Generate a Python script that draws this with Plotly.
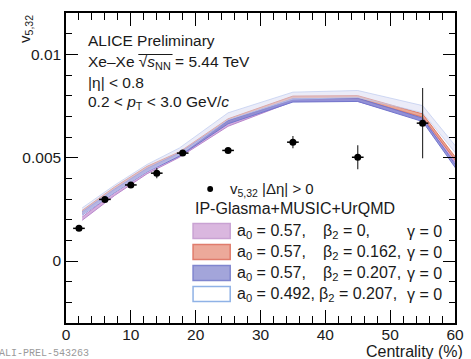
import plotly.graph_objects as go

# Measured v5,32 vs centrality (Xe-Xe, 5.44 TeV)
cent_data = [2, 6, 10, 14, 18, 25, 35, 45, 55]
v532_data = [0.00158, 0.00298, 0.00368, 0.00425, 0.00522, 0.00535, 0.00575, 0.00502, 0.00667]
v532_err = [0.00008, 0.00008, 0.00008, 0.00025, 0.00008, 0.00008, 0.0003, 0.00058, 0.0017]
cent_halfwidth = [0.9, 0.9, 0.9, 0.9, 0.9, 0.9, 0.9, 0.9, 0.9]

# IP-Glasma+MUSIC+UrQMD predictions (band centre and half width)
cent_model = [2.5, 7.5, 12.5, 17.5, 25, 35, 45, 55, 65]
model_beta0 = [0.00205, 0.00325, 0.0043, 0.0051, 0.0066, 0.0078, 0.0078, 0.0069, 0.0028]
model_beta0162 = [0.00237, 0.0035, 0.0045, 0.0052, 0.0068, 0.0079, 0.00792, 0.00704, 0.0029]
model_beta0207 = [0.0023, 0.0034, 0.0044, 0.00515, 0.00672, 0.00777, 0.0078, 0.00683, 0.0024]
model_a0492 = [0.0024, 0.0035, 0.0045, 0.0053, 0.007, 0.008, 0.00808, 0.00735, 0.0035]
halfwidth_beta0 = 0.00008
halfwidth_beta0162 = 0.00008
halfwidth_beta0207 = 0.00008
halfwidth_a0492 = 0.00017

legend_labels = [
    ("a<sub>0</sub> = 0.57,", "β<sub>2</sub> = 0,", "γ = 0"),
    ("a<sub>0</sub> = 0.57,", "β<sub>2</sub> = 0.162,", "γ = 0"),
    ("a<sub>0</sub> = 0.57,", "β<sub>2</sub> = 0.207,", "γ = 0"),
    ("a<sub>0</sub> = 0.492,", "β<sub>2</sub> = 0.207,", "γ = 0"),
]

W, H = 471, 359
ML, MR, MT, MB = 66, 7, 13, 36
PW, PH = W - ML - MR, H - MT - MB


def px(x):
    return (x - ML) / PW


def py(y):
    return 1 - (y - MT) / PH


FONT = "Liberation Sans, Arial, sans-serif"
TXT = "#1a1a1a"

bands = [
    (model_beta0, halfwidth_beta0, "rgba(205,160,215,0.85)", "rgba(185,135,205,1)"),
    (model_beta0162, halfwidth_beta0162, "rgba(232,160,140,0.9)", "rgba(222,120,100,1)"),
    (model_beta0207, halfwidth_beta0207, "rgba(140,142,215,0.9)", "rgba(115,118,205,1)"),
    (model_a0492, halfwidth_a0492, "rgba(215,218,242,0.5)", "rgba(190,203,240,0.7)"),
]

fig = go.Figure()

for centre, hw, fill, edge in bands:
    upper = [v + hw for v in centre]
    lower = [v - hw for v in centre]
    fig.add_trace(go.Scatter(x=cent_model, y=lower, mode="lines",
                             line=dict(color=edge, width=1), showlegend=False,
                             hoverinfo="skip"))
    fig.add_trace(go.Scatter(x=cent_model, y=upper, mode="lines",
                             line=dict(color=edge, width=1), fill="tonexty",
                             fillcolor=fill, showlegend=False, hoverinfo="skip"))

fig.add_trace(go.Scatter(
    x=cent_data, y=v532_data, mode="markers",
    marker=dict(color="black", size=7, symbol="circle"),
    error_y=dict(type="data", array=v532_err, color="#333", thickness=1.2, width=0),
    error_x=dict(type="data", array=cent_halfwidth, color="black", thickness=1.5, width=0),
    showlegend=False,
))

ann = []
shapes = []

# header texts
header = [
    ("ALICE Preliminary", 40),
    ("Xe–Xe √<i>s</i><sub>NN</sub> = 5.44 TeV", 62),
    ("|η| < 0.8", 82),
    ("0.2 < <i>p</i><sub>T</sub> < 3.0 GeV/<i>c</i>", 102),
]
for text, yc in header:
    ann.append(dict(text=text, x=px(86), y=py(yc), xref="paper", yref="paper",
                    xanchor="left", yanchor="middle", showarrow=False,
                    font=dict(family=FONT, size=15.5, color=TXT)))
# overline of the square root
shapes.append(dict(type="line", xref="paper", yref="paper",
                   x0=px(140), x1=px(175), y0=py(54.5), y1=py(54.5),
                   line=dict(color=TXT, width=1)))

# legend
shapes.append(dict(type="circle", xref="paper", yref="paper",
                   x0=px(210.5), x1=px(216.5), y0=py(186), y1=py(192),
                   fillcolor="black", line=dict(color="black", width=0)))
ann.append(dict(text="v<sub>5,32</sub> |Δη| > 0", x=px(232), y=py(189),
                xref="paper", yref="paper", xanchor="left", yanchor="middle",
                showarrow=False, font=dict(family=FONT, size=15, color=TXT)))
ann.append(dict(text="IP-Glasma+MUSIC+UrQMD", x=px(196), y=py(208),
                xref="paper", yref="paper", xanchor="left", yanchor="middle",
                showarrow=False, font=dict(family=FONT, size=16, color=TXT)))

box_styles = [
    ("#dab7df", "#c9a2d3"),
    ("#eca99a", "#e07c6c"),
    ("#a3a5da", "#8086cf"),
    ("#ffffff", "#8fb2e6"),
]
row_y = [231, 252, 273, 294]
beta_x = [327, 327, 327, 323]
for (fill, edge), yc, bx, (a_txt, b_txt, g_txt) in zip(box_styles, row_y, beta_x, legend_labels):
    shapes.append(dict(type="rect", xref="paper", yref="paper",
                       x0=px(196), x1=px(234), y0=py(yc + 7.5), y1=py(yc - 7.5),
                       fillcolor=fill, line=dict(color=edge, width=1.5)))
    for t, xx, anchor in ((a_txt, 239, "left"), (b_txt, bx, "left"), (g_txt, 453, "right")):
        ann.append(dict(text=t, x=px(xx), y=py(yc), xref="paper", yref="paper",
                        xanchor=anchor, yanchor="middle", showarrow=False,
                        font=dict(family=FONT, size=16, color=TXT)))

# axis titles
ann.append(dict(text="v<sub>5,32</sub>", x=px(24), y=py(13), xref="paper", yref="paper",
                xanchor="center", yanchor="top", textangle=-90, showarrow=False,
                font=dict(family=FONT, size=15, color=TXT)))
ann.append(dict(text="Centrality (%)", x=px(474), y=py(351), xref="paper", yref="paper",
                xanchor="right", yanchor="middle", showarrow=False,
                font=dict(family=FONT, size=16, color=TXT)))
ann.append(dict(text="ALI-PREL-543263", x=px(-5), y=py(353), xref="paper", yref="paper",
                xanchor="left", yanchor="middle", showarrow=False,
                font=dict(family="Liberation Mono, Courier New, monospace", size=10,
                          color="#9a9a9a")))

axis_common = dict(showline=True, linecolor="black", linewidth=1.5, mirror="allticks",
                   ticks="inside", tickcolor="black", tickwidth=1.2, showgrid=False,
                   zeroline=False, tickfont=dict(family=FONT, size=15.5, color=TXT))

fig.update_xaxes(range=[0, 60], tickvals=[0, 10, 20, 30, 40, 50, 60], ticklen=13,
                 ticklabelstandoff=-3,
                 minor=dict(ticks="inside", dtick=2, tick0=0, ticklen=7,
                            tickcolor="black", tickwidth=1.2),
                 **axis_common)
fig.update_yaxes(range=[-0.003, 0.012], tickvals=[0, 0.005, 0.01],
                 ticktext=["0", "0.005", "0.01"], ticklen=12,
                 minor=dict(ticks="inside", dtick=0.001, tick0=0, ticklen=6,
                            tickcolor="black", tickwidth=1.2),
                 **axis_common)

fig.update_layout(width=W, height=H, margin=dict(l=ML, r=MR, t=MT, b=MB),
                  plot_bgcolor="white", paper_bgcolor="white",
                  annotations=ann, shapes=shapes, showlegend=False)

fig.write_html("out.html")
